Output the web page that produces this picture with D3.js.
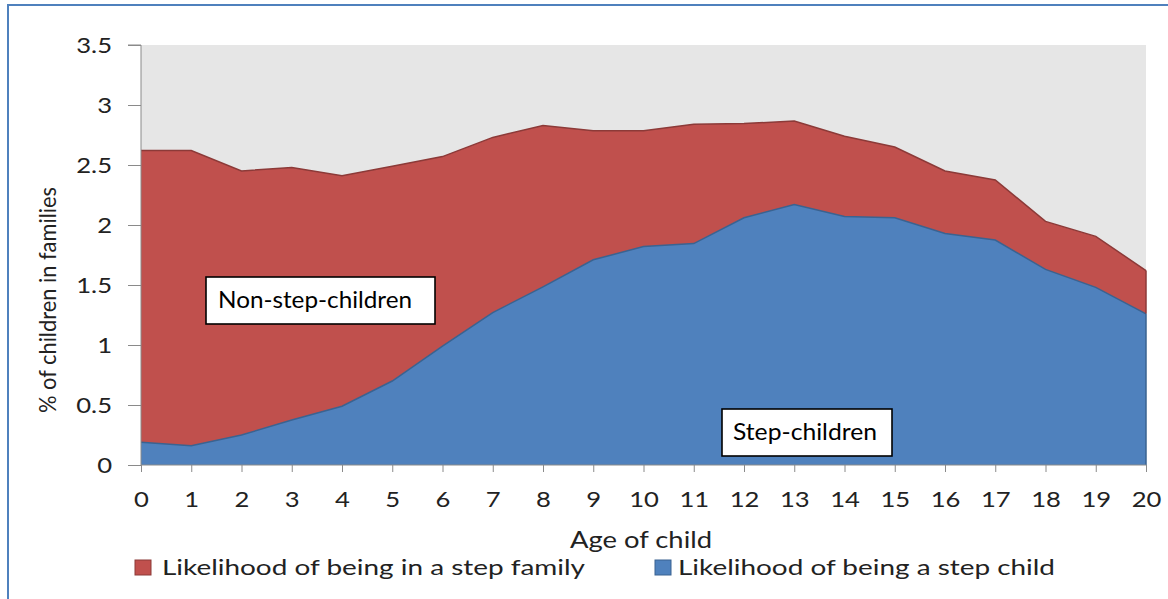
<!DOCTYPE html>
<html>
<head>
<meta charset="utf-8">
<script src="https://cdn.jsdelivr.net/npm/d3@7"></script>
<style>
  html, body { margin: 0; padding: 0; background: #fff; }
  svg { display: block; font-family: Lato, "Open Sans", sans-serif; }
</style>
</head>
<body>
<svg id="chart" width="1168" height="599"></svg>
<script>
// ---- data ----
const ages = [0,1,2,3,4,5,6,7,8,9,10,11,12,13,14,15,16,17,18,19,20];
const stepFamily = [2.62,2.62,2.45,2.48,2.41,2.49,2.57,2.73,2.83,2.785,2.785,2.84,2.845,2.867,2.74,2.65,2.45,2.375,2.03,1.905,1.62];
const stepChild  = [0.19,0.16,0.25,0.375,0.49,0.70,0.99,1.27,1.485,1.71,1.82,1.845,2.06,2.17,2.07,2.06,1.93,1.875,1.63,1.48,1.26];
const yTicks = [0,0.5,1,1.5,2,2.5,3,3.5];
const yTickLabels = ["0","0.5","1","1.5","2","2.5","3","3.5"];
const seriesNames = ["Likelihood of being in a step family","Likelihood of being a step child"];
const annotations = ["Non-step-children","Step-children"];

const svg = d3.select("#chart");
const m = {left: 141, right: 1146, top: 45, bottom: 465};

// stretch helper (reference text is horizontally wide)
function fitWidth(sel, w) {
  sel.attr("textLength", w).attr("lengthAdjust", "spacingAndGlyphs");
}
function stretch(sel, k) {
  sel.each(function() {
    const w = this.getComputedTextLength();
    d3.select(this).attr("textLength", w * k).attr("lengthAdjust", "spacingAndGlyphs");
  });
}

// outer border
svg.append("rect").attr("x", 8).attr("y", 5).attr("width", 1200).attr("height", 700)
  .attr("fill", "#fff").attr("stroke", "#4f81bd").attr("stroke-width", 2);

const x = d3.scaleLinear().domain([0, 20]).range([m.left, m.right]);
const y = d3.scaleLinear().domain([0, 3.5]).range([m.bottom, m.top]);

// plot background
svg.append("rect").attr("x", m.left).attr("y", m.top)
  .attr("width", m.right - m.left).attr("height", m.bottom - m.top)
  .attr("fill", "#e6e6e6");

const area = (vals) => d3.area()
  .x((d, i) => x(ages[i])).y0(y(0)).y1(d => y(d))(vals);
const line = (vals) => d3.line()
  .x((d, i) => x(ages[i])).y(d => y(d))(vals);

svg.append("path").attr("d", area(stepFamily)).attr("fill", "#c0504d");
svg.append("path").attr("d", line(stepFamily)).attr("fill", "none")
  .attr("stroke", "#8c3a38").attr("stroke-width", 1.5);
svg.append("path").attr("d", area(stepChild)).attr("fill", "#4f81bd");
svg.append("path").attr("d", line(stepChild)).attr("fill", "none")
  .attr("stroke", "#3a6391").attr("stroke-width", 1.5);
svg.append("line").attr("x1", x(20)).attr("x2", x(20)).attr("y1", y(stepFamily[20])).attr("y2", y(stepChild[20]))
  .attr("stroke", "#8c3a38").attr("stroke-width", 1.5);
svg.append("line").attr("x1", x(20)).attr("x2", x(20)).attr("y1", y(stepChild[20])).attr("y2", y(0))
  .attr("stroke", "#3a6391").attr("stroke-width", 1.5);

// axes
const yAxis = d3.axisLeft(y).tickValues(yTicks).tickFormat((d, i) => yTickLabels[i])
  .tickSize(13).tickPadding(16);
const gy = svg.append("g").attr("transform", `translate(${m.left},0)`).call(yAxis);
gy.select(".domain").attr("stroke", "#8a8a8a").attr("d", `M-13,${m.top}H0V${m.bottom}`);
gy.selectAll(".tick line").attr("stroke", "#8a8a8a");
gy.selectAll("text").attr("font-size", 20.5).attr("fill", "#222").attr("x", -29)
  .attr("dy", "0.36em").attr("font-family", "Lato, sans-serif");
stretch(gy.selectAll("text"), 1.25);

const xAxis = d3.axisBottom(x).tickValues(ages).tickFormat(d => String(d))
  .tickSize(7).tickPadding(12);
const gx = svg.append("g").attr("transform", `translate(0,${m.bottom})`).call(xAxis);
gx.select(".domain").attr("stroke", "#8a8a8a").attr("d", `M${m.left},0H${m.right}`);
gx.selectAll(".tick line").attr("stroke", "#8a8a8a");
gx.selectAll("text").attr("font-size", 20.5).attr("fill", "#222").attr("y", 42).attr("dy", null)
  .attr("font-family", "Lato, sans-serif");
stretch(gx.selectAll("text"), 1.25);

// axis titles
fitWidth(svg.append("text").attr("x", 641).attr("y", 548).attr("text-anchor", "middle")
  .attr("font-size", 22.5).attr("fill", "#222").text("Age of child"), 142);
fitWidth(svg.append("text").attr("transform", "translate(56,300) rotate(-90)").attr("text-anchor", "middle")
  .attr("font-size", 23).attr("fill", "#222").text("% of children in families"), 226);

// annotation boxes
const boxes = [
  {x0: 206, y0: 277, x1: 435, y1: 324, tx: 218, ty: 308, w: 194, t: annotations[0]},
  {x0: 722, y0: 409, x1: 892, y1: 456, tx: 733, ty: 440, w: 144, t: annotations[1]}
];
boxes.forEach(b => {
  svg.append("rect").attr("x", b.x0).attr("y", b.y0).attr("width", b.x1 - b.x0).attr("height", b.y1 - b.y0)
    .attr("fill", "#fff").attr("stroke", "#000").attr("stroke-width", 1.6);
  fitWidth(svg.append("text").attr("x", b.tx).attr("y", b.ty)
    .attr("font-size", 23).attr("fill", "#000").text(b.t), b.w);
});

// legend
const legend = [
  {sx: 135, tx: 162, w: 423, color: "#c0504d", stroke: "#8c3a38", name: seriesNames[0]},
  {sx: 655, tx: 678, w: 377, color: "#4f81bd", stroke: "#3a6391", name: seriesNames[1]}
];
legend.forEach(l => {
  svg.append("rect").attr("x", l.sx).attr("y", 560).attr("width", 16).attr("height", 15)
    .attr("fill", l.color).attr("stroke", l.stroke).attr("stroke-width", 1);
  fitWidth(svg.append("text").attr("x", l.tx).attr("y", 575).attr("font-size", 22).attr("fill", "#222").text(l.name), l.w);
});
</script>
</body>
</html>
